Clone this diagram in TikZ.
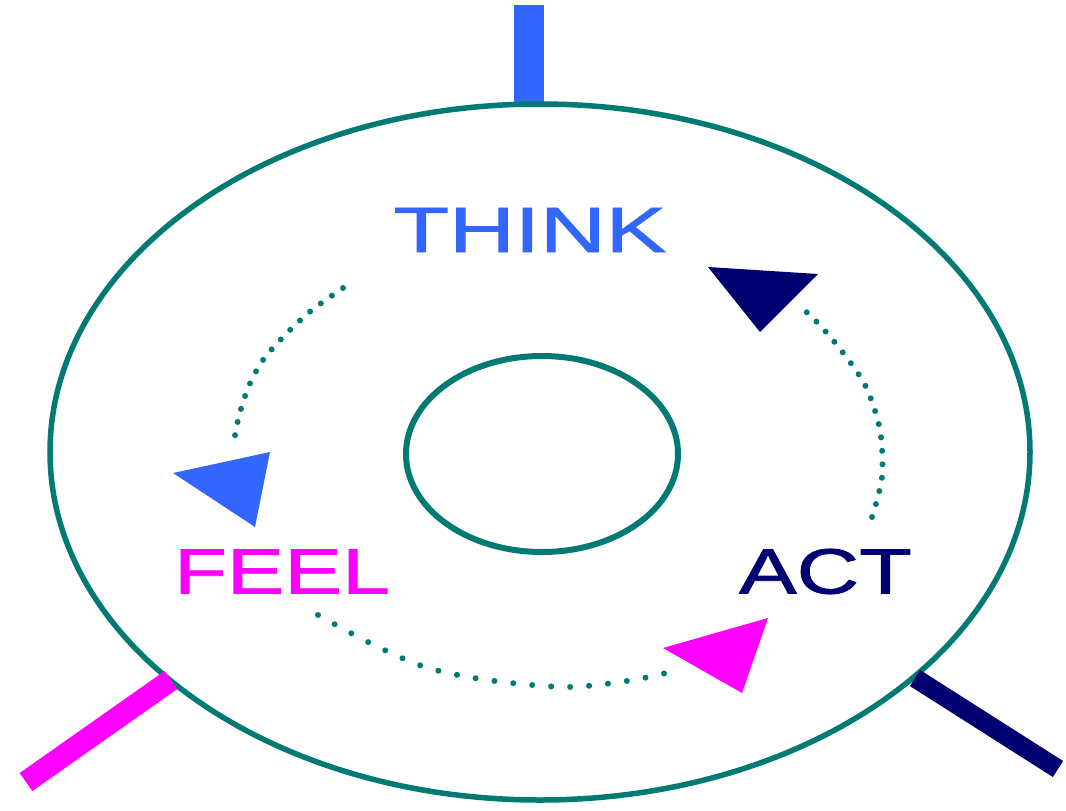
\documentclass[tikz,border=0pt]{standalone}
\usepackage{fontspec}
\usepackage{graphicx}
\setmainfont{Liberation Sans}
\newfontfamily\wordfont[FakeBold=1.2]{Liberation Sans}
\definecolor{tealc}{RGB}{0,122,114}
\definecolor{blueC}{RGB}{51,102,255}
\definecolor{navyC}{RGB}{0,0,112}
\definecolor{magC}{RGB}{255,0,255}
\tikzset{
  ring/.style={draw=tealc, line width=5.5pt},
  dotarc/.style={draw=tealc, line width=6pt, line cap=round, dash pattern=on 0pt off #1pt},
  word/.style={inner sep=0pt, font=\wordfont\fontsize{64}{64}\selectfont},
  bar/.style={line width=#1pt},
}
\begin{document}
\begin{tikzpicture}[x=1pt,y=-1pt]
\useasboundingbox (0,0) rectangle (1066,811);
% top blue bar
\fill[blueC] (514,5) rectangle (544,106);
% rings
\coordinate (c) at (540,452);
\draw[ring] (c) ellipse [x radius=490pt, y radius=348pt];
\draw[ring, line width=6pt] (542,454) ellipse [x radius=136pt, y radius=98pt];
% side bars
\coordinate (mb1) at (26,782); \coordinate (mb2) at (171,680);
\draw[magC, bar=22] (mb1) -- (mb2);
\coordinate (nb1) at (915,678); \coordinate (nb2) at (1058,769);
\draw[navyC, bar=19] (nb1) -- (nb2);
% labels
\node[word, text=blueC] (think) at (530,230) {\scalebox{1.42}[1]{THINK}};
\node[word, text=magC] (feel) at (282,571.5) {\scalebox{1.35}[1]{FEEL}};
\node[word, text=navyC] (act) at (825.5,571.5) {\scalebox{1.35}[1]{ACT}};
% dotted arcs
\draw[dotarc=13.5] plot[smooth] coordinates {(343,288) (312,310) (287,333) (263,360) (248,388) (238,420) (233,448)};
\draw[dotarc=13.5] plot[smooth] coordinates {(872,517) (882,477) (880,430) (865,385) (837,345) (813,318) (800,307)};
\draw[dotarc=19] plot[smooth] coordinates {(318,615) (370,643) (425,667) (487,680) (567,687) (633,680) (678,670)};
% arrow heads
\fill[blueC] (173,473) -- (270,452) -- (255,527) -- cycle;
\fill[navyC] (708,267) -- (818,274) -- (760,332) -- cycle;
\fill[magC] (663,648) -- (768,618) -- (742,693) -- cycle;
\end{tikzpicture}
\end{document}
